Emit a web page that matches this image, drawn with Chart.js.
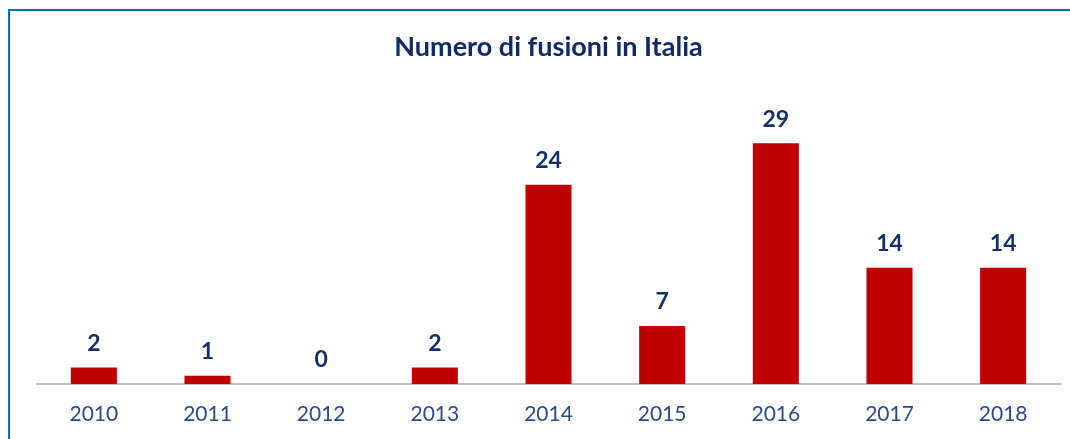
<!DOCTYPE html>
<html>
<head>
<meta charset="utf-8">
<script src="https://cdn.jsdelivr.net/npm/chart.js@4"></script>
<style>
  html, body { margin: 0; padding: 0; background: #fff; }
  .wrap { position: relative; width: 1070px; height: 439px; overflow: hidden; }
  .frame {
    position: absolute; left: 8px; top: 9px; width: 1100px; height: 500px;
    border-top: 2px solid #0070C0; border-left: 2px solid #0070C0;
    box-sizing: border-box;
  }
  canvas { position: absolute; left: 0; top: 0; }
</style>
</head>
<body>
<div class="wrap">
  <div class="frame"></div>
  <canvas class="js-graph" width="1070" height="439"></canvas>
</div>
<script>
const years = ['2010', '2011', '2012', '2013', '2014', '2015', '2016', '2017', '2018']
const fusioni = [2, 1, 0, 2, 24, 7, 29, 14, 14]
const titolo = 'Numero di fusioni in Italia'

// valori sopra le barre
const barLabels = {
  id: 'barLabels',
  afterDatasetsDraw(chart) {
    const ctx = chart.ctx
    const meta = chart.getDatasetMeta(0)
    ctx.save()
    ctx.font = 'bold 23px Lato'
    ctx.fillStyle = '#14306B'
    ctx.textAlign = 'center'
    ctx.textBaseline = 'middle'
    meta.data.forEach((bar, i) => {
      ctx.fillText(String(fusioni[i]), bar.x, bar.y - 24)
    })
    ctx.restore()
  }
}

let chart

const init = function () {
  const ctx = document.querySelector('.js-graph')
  chart = new Chart(ctx, {
    type: 'bar',
    data: {
      labels: years,
      datasets: [
        {
          data: fusioni,
          backgroundColor: '#C00000',
          categoryPercentage: 1,
          barPercentage: 0.405,
        },
      ],
    },
    options: {
      responsive: false,
      animation: false,
      layout: { padding: { left: 37, right: 10, top: 0, bottom: 2 } },
      plugins: {
        legend: { display: false },
        tooltip: { enabled: false },
        title: {
          display: true,
          text: titolo,
          color: '#0F2A66',
          font: { family: 'Lato', size: 27, weight: 'bold' },
          padding: { top: 31, bottom: 30 },
        },
      },
      scales: {
        x: {
          grid: { display: false },
          border: { display: true, color: '#BFBFBF', width: 2 },
          ticks: {
            color: '#2B4A8B',
            font: { family: 'Lato', size: 21, lineHeight: 1 },
            padding: 12,
          },
        },
        y: {
          display: false,
          min: 0,
          max: 35,
        },
      },
    },
    plugins: [barLabels],
  })
}

document.addEventListener('DOMContentLoaded', function () {
  init()
})
</script>
</body>
</html>
